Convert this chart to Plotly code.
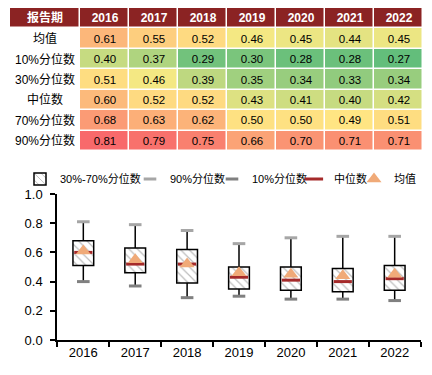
import plotly.graph_objects as go

years = ["2016", "2017", "2018", "2019", "2020", "2021", "2022"]
header_label = "报告期"
row_labels = ["均值", "10%分位数", "30%分位数", "中位数", "70%分位数", "90%分位数"]
mean_v = [0.61, 0.55, 0.52, 0.46, 0.45, 0.44, 0.45]
p10 = [0.40, 0.37, 0.29, 0.30, 0.28, 0.28, 0.27]
p30 = [0.51, 0.46, 0.39, 0.35, 0.34, 0.33, 0.34]
p50 = [0.60, 0.52, 0.52, 0.43, 0.41, 0.40, 0.42]
p70 = [0.68, 0.63, 0.62, 0.50, 0.50, 0.49, 0.51]
p90 = [0.81, 0.79, 0.75, 0.66, 0.70, 0.71, 0.71]
rows = [mean_v, p10, p30, p50, p70, p90]

FONT = "Liberation Sans, Arial, Noto Sans CJK SC, sans-serif"
HDR = "#8B2323"

# Excel-like 3-colour scale (green - yellow - red), midpoint at median
allv = sorted(v for r in rows for v in r)
vmin, vmax = allv[0], allv[-1]
n = len(allv)
vmid = (allv[n // 2 - 1] + allv[n // 2]) / 2
tmid = (vmid - vmin) / (vmax - vmin)
cscale = [[0, "rgb(99,190,123)"], [tmid, "rgb(255,235,132)"], [1, "rgb(248,105,107)"]]

W, H = 432, 375
ml, mr, mt, mb = 10, 9, 0, 35
pw = W - ml - mr
ph = H - mt - mb


def px_x(x):
    return (x - ml) / pw


def px_y(y):
    return (H - mb - y) / ph


fig = go.Figure()

# ---- table drawn as heatmaps ----
fig.add_trace(go.Heatmap(
    x=years, y=row_labels, z=rows, colorscale=cscale, zmin=vmin, zmax=vmax,
    xgap=1.5, ygap=1.5, showscale=False, hoverinfo="skip",
    texttemplate="%{z:.2f}", textfont=dict(size=11.5, color="black", family=FONT),
    xaxis="x3", yaxis="y2", showlegend=False,
))
fig.add_trace(go.Heatmap(
    x=years, y=[header_label], z=[[1] * len(years)], text=[years],
    colorscale=[[0, HDR], [1, HDR]], xgap=1.5, ygap=1.5, showscale=False, hoverinfo="skip",
    texttemplate="<b>%{text}</b>", textfont=dict(size=12, color="white", family=FONT),
    xaxis="x3", yaxis="y2", showlegend=False,
))
fig.add_trace(go.Heatmap(
    x=["lab"], y=[header_label], z=[[1]], text=[[header_label]],
    colorscale=[[0, HDR], [1, HDR]], xgap=1.5, ygap=1.5, showscale=False, hoverinfo="skip",
    texttemplate="<b>%{text}</b>", textfont=dict(size=12, color="white", family=FONT),
    xaxis="x2", yaxis="y2", showlegend=False,
))

annotations = [dict(text=lab, x=px_x(45), xref="paper", xanchor="center", y=lab, yref="y2",
                    yanchor="middle", showarrow=False, font=dict(size=12, color="black", family=FONT))
               for lab in row_labels]

# ---- box chart ----
fig.add_trace(go.Bar(
    x=years, y=[b - a for a, b in zip(p30, p70)], base=p30, width=0.4,
    name="30%-70%分位数", legend="legend",
    marker=dict(color="white", line=dict(color="black", width=1.5),
                pattern=dict(shape="\\", fgcolor="#BDBDBD", bgcolor="white", size=6, solidity=0.2)),
    hoverinfo="skip",
))

wx, wy = [], []
for i, yr in enumerate(years):
    wx += [yr, yr, None, yr, yr, None]
    wy += [p10[i], p30[i], None, p70[i], p90[i], None]
fig.add_trace(go.Scatter(x=wx, y=wy, mode="lines", line=dict(color="black", width=1.5),
                         showlegend=False, hoverinfo="skip"))

fig.add_trace(go.Scatter(x=years, y=p90, mode="markers", name="90%分位数", legend="legend2",
                         marker=dict(symbol="line-ew", size=9, line=dict(width=3, color="#A6A6A6"))))
fig.add_trace(go.Scatter(x=years, y=p10, mode="markers", name="10%分位数", legend="legend3",
                         marker=dict(symbol="line-ew", size=9, line=dict(width=3, color="#808080"))))
fig.add_trace(go.Scatter(x=years, y=p50, mode="markers", name="中位数", legend="legend4",
                         marker=dict(symbol="line-ew", size=13, line=dict(width=3, color="#A52A2A"))))
fig.add_trace(go.Scatter(x=years, y=mean_v, mode="markers", name="均值", legend="legend5",
                         marker=dict(symbol="triangle-up", size=13, color="#F0AA78")))

LEG_Y = px_y(179)


def leg(sym_center):
    # plotly puts the legend symbol centre 20px right of the legend's x, text 40px right
    return dict(orientation="h", x=px_x(sym_center - 20), y=LEG_Y, xanchor="left", yanchor="middle",
                font=dict(size=11, family=FONT, color="black"), itemwidth=30,
                bgcolor="rgba(0,0,0,0)", borderwidth=0)


hidden = dict(visible=False, fixedrange=True)

fig.update_layout(
    width=W, height=H, margin=dict(l=ml, r=mr, t=mt, b=mb),
    paper_bgcolor="white", plot_bgcolor="white", template="none",
    font=dict(family=FONT, size=12, color="black"),
    showlegend=True, annotations=annotations,
    legend=leg(40), legend2=leg(150), legend3=leg(232), legend4=leg(314), legend5=leg(374),
    xaxis=dict(domain=[px_x(57), px_x(421)], type="category", showline=True, linecolor="black",
               linewidth=1.5, ticks="outside", tickson="boundaries", ticklen=5, tickcolor="black",
               tickwidth=1.5, showgrid=False, tickfont=dict(size=13), zeroline=False, anchor="y",
               fixedrange=True),
    yaxis=dict(domain=[0, px_y(194)], range=[0, 1], dtick=0.2, tickformat=".1f", showline=True,
               linecolor="black", linewidth=1.5, ticks="outside", ticklen=5, tickcolor="black",
               tickwidth=1.5, showgrid=False, zeroline=False, tickfont=dict(size=13), anchor="x",
               ticklabelstandoff=5, fixedrange=True),
    xaxis2=dict(domain=[px_x(10), px_x(80)], anchor="y2", **hidden),
    xaxis3=dict(domain=[px_x(80), px_x(423)], anchor="y2", type="category", **hidden),
    yaxis2=dict(domain=[px_y(151), px_y(8)], anchor="x2", type="category",
                categoryorder="array", categoryarray=[header_label] + row_labels,
                autorange="reversed", **hidden),
)

fig.write_html("out.html", config={"displayModeBar": False},
               post_script="document.body.style.margin='0px';")
